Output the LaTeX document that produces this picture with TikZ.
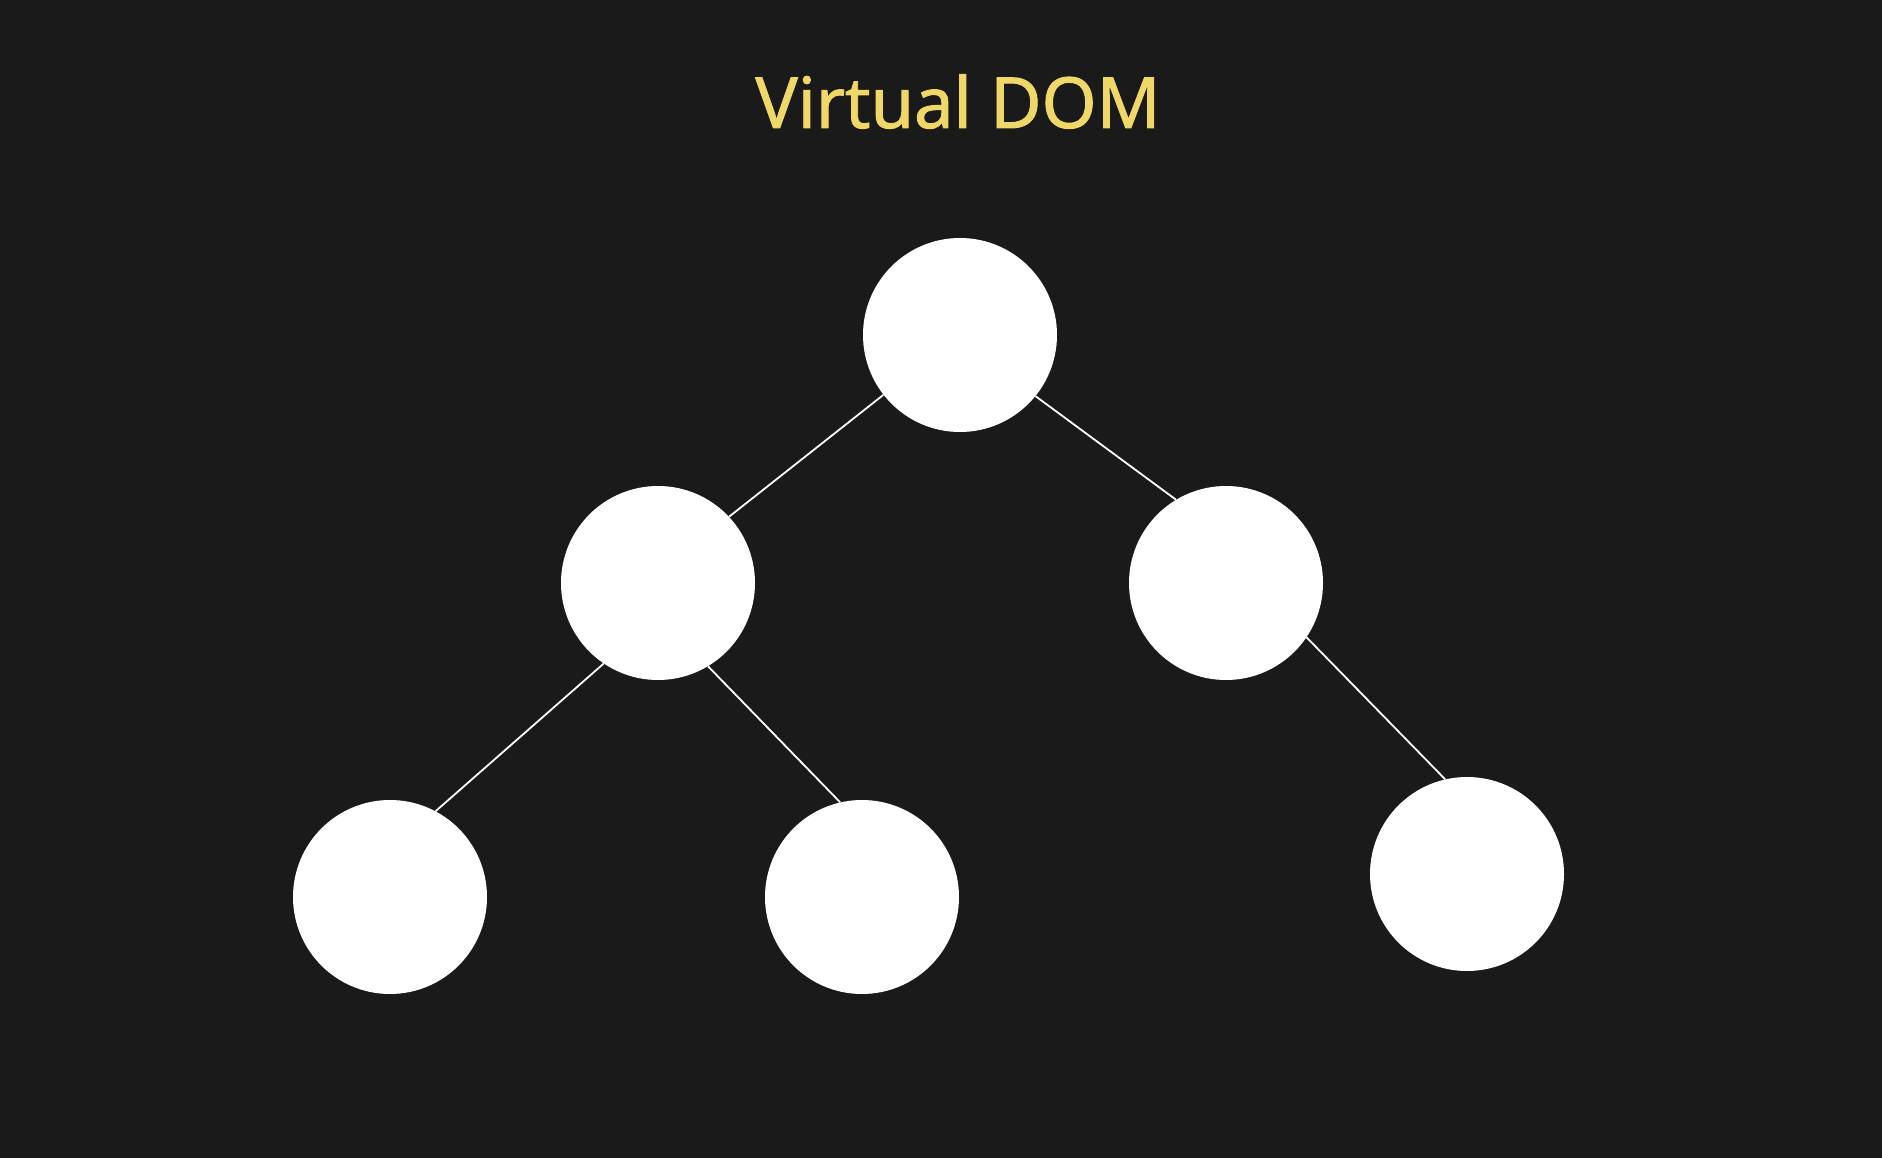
\documentclass[tikz,border=0pt]{standalone}
\usepackage{fontspec}
\setmainfont{Noto Sans}
\newfontfamily\titlefont[FakeBold=1.3]{Noto Sans}
\definecolor{bg}{HTML}{1A1A1A}
\definecolor{titleyellow}{HTML}{F0D868}
\begin{document}
\begin{tikzpicture}[x=1pt,y=-1pt,
  treenode/.style={circle,fill=white,draw=none,minimum size=194pt,inner sep=0pt},
  edge/.style={draw=white,line width=1.8pt}]
\fill[bg] (0,0) rectangle (1882,1158);
\useasboundingbox (0,0) rectangle (1882,1158);
\node[text=titleyellow,font=\titlefont\fontsize{70.5}{80}\selectfont,anchor=base] (title) at (958,128) {Virtual DOM};
\node[treenode] (root) at (960,335) {};
\node[treenode] (lm) at (658,583) {};
\node[treenode] (rm) at (1226,583) {};
\node[treenode] (ll) at (390,897) {};
\node[treenode] (lr) at (862,897) {};
\node[treenode] (rr) at (1467,874) {};
\draw[edge] (root.218) -- (lm.43);
\draw[edge] (root.321) -- (rm.121);
\draw[edge] (lm.236) -- (ll.62);
\draw[edge] (lm.301) -- (lr.103.5);
\draw[edge] (rm.326.5) -- (rr.103.5);
\end{tikzpicture}
\end{document}
